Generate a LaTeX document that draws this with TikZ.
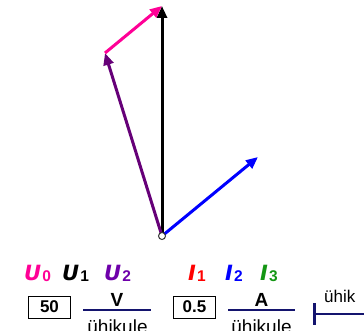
\documentclass[tikz,border=0pt]{standalone}
\usepackage{fontspec}
\setmainfont{Liberation Sans}
\newfontfamily\symfont{DejaVu Sans}
\usetikzlibrary{arrows.meta}
\definecolor{upink}{RGB}{255,0,150}
\definecolor{upurple}{RGB}{102,0,120}
\definecolor{lpurple}{RGB}{110,0,170}
\definecolor{ired}{RGB}{255,0,0}
\definecolor{iblue}{RGB}{0,0,255}
\definecolor{igreen}{RGB}{20,150,20}
\definecolor{navy}{RGB}{20,20,110}
\tikzset{
  vec/.style={line width=3pt,-{Triangle[length=12pt,width=10pt]}},
  sym/.style={inner sep=0pt,anchor=base west,font=\symfont\fontsize{21}{22}\selectfont\bfseries\itshape},
  numbox/.style={draw,line width=1pt,inner sep=0pt,minimum width=42pt,minimum height=22pt,font=\fontsize{17}{18}\selectfont\bfseries},
  unit/.style={inner sep=0pt,font=\fontsize{19}{20}\selectfont\bfseries},
  per/.style={inner sep=0pt,font=\fontsize{19}{20}\selectfont},
  frac/.style={draw=navy,line width=1.5pt}
}
\newcommand{\sbs}[1]{\kern1pt\raisebox{-1pt}{\rmfamily\fontsize{15.5}{15.5}\selectfont\upshape\bfseries #1}}
\begin{document}
\begin{tikzpicture}[x=1pt,y=-1pt]
\useasboundingbox (0,0) rectangle (364,331);
\coordinate (O) at (162,236);
\coordinate (A) at (105,53);
\coordinate (B) at (162,6);
\coordinate (C) at (258,157);
\draw[vec,black] (O) -- (B);
\draw[vec,upurple] (O) -- (A);
\draw[vec,upink] (A) -- (B);
\draw[vec,iblue] (O) -- (C);
\node[circle,draw=black!80,fill=white,line width=1pt,inner sep=0pt,minimum size=7pt] (o) at (O) {};
% labels
\node[sym,text=upink] (u0) at (24,280) {U\sbs{0}};
\node[sym,text=black] (u1) at (62,280) {U\sbs{1}};
\node[sym,text=lpurple] (u2) at (104,280) {U\sbs{2}};
\node[sym,text=ired] (i1) at (188,280) {I\sbs{1}};
\node[sym,text=iblue] (i2) at (225,280) {I\sbs{2}};
\node[sym,text=igreen] (i3) at (260,280) {I\sbs{3}};
% scale boxes
\node[numbox] (b1) at (49.5,307) {50};
\coordinate (v1) at (83,310);
\coordinate (v2) at (151,310);
\draw[frac] (v1) -- (v2);
\node[unit,anchor=base] (vu) at (117,306) {V};
\node[per,anchor=base] (vp) at (117.5,333) {ühikule};
\node[numbox] (b2) at (194.5,307) {0.5};
\coordinate (a1) at (228,310);
\coordinate (a2) at (295,310);
\draw[frac] (a1) -- (a2);
\node[unit,anchor=base] (au) at (261.5,306) {A};
\node[per,anchor=base] (ap) at (261.5,333) {ühikule};
% length scale
\coordinate (s1) at (314,303);
\coordinate (s2) at (314,325);
\coordinate (s3) at (364,314);
\draw[navy,line width=3pt] (s1) -- (s2);
\draw[navy,line width=2.5pt] (s1|-s3) -- (s3);
\node[inner sep=0pt,anchor=base west,font=\fontsize{17}{18}\selectfont] (uh) at (324,302) {ühik};
\end{tikzpicture}
\end{document}
